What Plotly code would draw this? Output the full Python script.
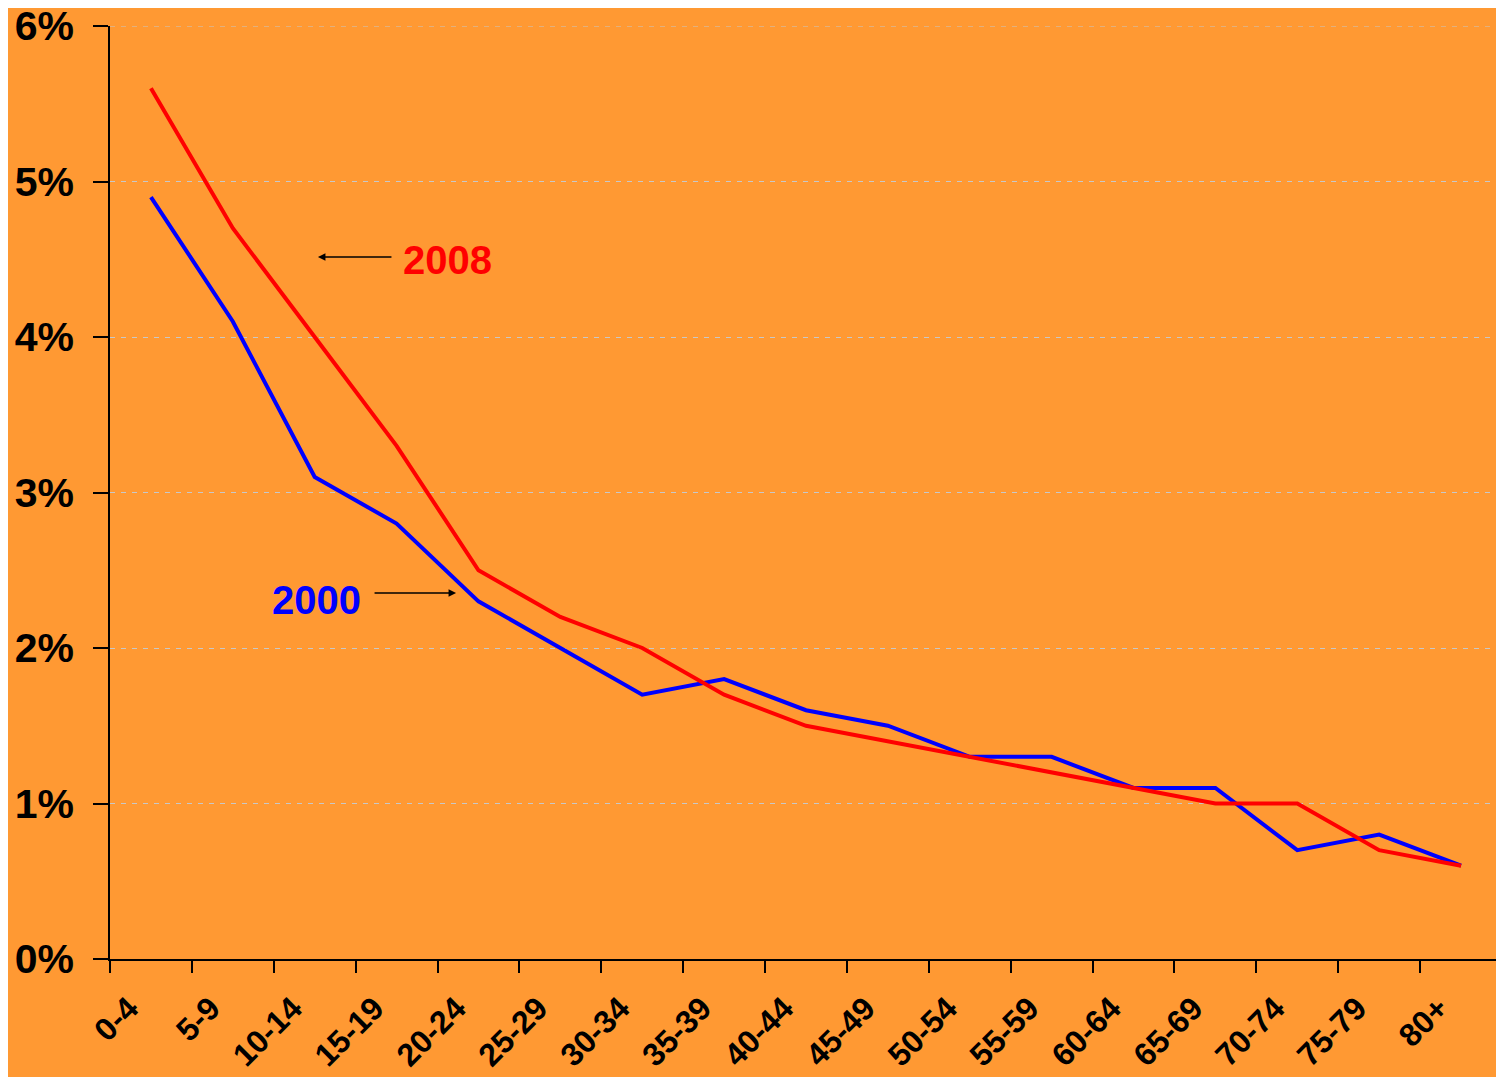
import plotly.graph_objects as go

# age groups and share of population (%)
age_groups = ["0-4", "5-9", "10-14", "15-19", "20-24", "25-29", "30-34", "35-39",
              "40-44", "45-49", "50-54", "55-59", "60-64", "65-69", "70-74", "75-79", "80+"]
share_2008 = [5.6, 4.7, 4.0, 3.3, 2.5, 2.2, 2.0, 1.7, 1.5, 1.4, 1.3, 1.2, 1.1, 1.0, 1.0, 0.7, 0.6]
share_2000 = [4.9, 4.1, 3.1, 2.8, 2.3, 2.0, 1.7, 1.8, 1.6, 1.5, 1.3, 1.3, 1.1, 1.1, 0.7, 0.8, 0.6]

y_ticks = [0, 1, 2, 3, 4, 5, 6]
y_labels = ["0%", "1%", "2%", "3%", "4%", "5%", "6%"]

bg = "#FF9933"
grid = "#C8C8C8"

fig = go.Figure()
fig.add_trace(go.Scatter(x=age_groups, y=share_2000, mode="lines",
                         line=dict(color="#0000FF", width=4), name="2000"))
fig.add_trace(go.Scatter(x=age_groups, y=share_2008, mode="lines",
                         line=dict(color="#FF0000", width=4), name="2008"))

bold = dict(family="Liberation Sans, Arial, sans-serif", color="black", weight="bold")

# page body has an 8px margin, so the figure is a bit smaller than the window
fig.update_layout(
    width=1496, height=1069,
    paper_bgcolor=bg, plot_bgcolor=bg,
    margin=dict(l=102, r=2, t=18, b=118),
    showlegend=False,
    xaxis=dict(
        type="category", range=[-0.5, 16.5], tickson="boundaries",
        showline=True, linecolor="black", linewidth=1.5,
        ticks="outside", ticklen=12, tickcolor="black", tickwidth=1.5,
        tickangle=-45, tickfont=dict(size=32, **bold),
        ticklabelstandoff=16, ticklabelshift=-22,
        showgrid=False, zeroline=False, automargin=False,
    ),
    yaxis=dict(
        range=[0, 6], tickvals=y_ticks, ticktext=y_labels,
        showline=True, linecolor="black", linewidth=1.5,
        ticks="outside", ticklen=15, tickcolor="black", tickwidth=1.5,
        tickfont=dict(size=41, **bold), ticklabelstandoff=11,
        ticklabeloverflow="allow",
        showgrid=True, gridcolor=grid, griddash="5px,6px", gridwidth=1,
        zeroline=False, automargin=False,
    ),
)

# the top gridline sits on the plot edge, plotly skips it
fig.add_shape(type="line", xref="paper", yref="y", x0=0, x1=1,
              y0=y_ticks[-1], y1=y_ticks[-1], layer="below",
              line=dict(color=grid, width=1, dash="5px,6px"))

# labels with arrows
fig.add_annotation(xref="paper", yref="paper", x=0.1494, y=0.7524, text="",
                   showarrow=True, ax=75, ay=0, arrowhead=2, arrowsize=1,
                   arrowwidth=1.5, arrowcolor="black")
fig.add_annotation(xref="paper", yref="paper", x=0.2428, y=0.7492, text="2008",
                   xanchor="center", yanchor="middle", showarrow=False,
                   font=dict(size=40, family=bold["family"], color="#FF0000", weight="bold"))
fig.add_annotation(xref="paper", yref="paper", x=0.2486, y=0.3923, text="",
                   showarrow=True, ax=-83, ay=0, arrowhead=2, arrowsize=1,
                   arrowwidth=1.5, arrowcolor="black")
fig.add_annotation(xref="paper", yref="paper", x=0.148, y=0.3848, text="2000",
                   xanchor="center", yanchor="middle", showarrow=False,
                   font=dict(size=40, family=bold["family"], color="#0000FF", weight="bold"))

fig.write_html("out.html")
